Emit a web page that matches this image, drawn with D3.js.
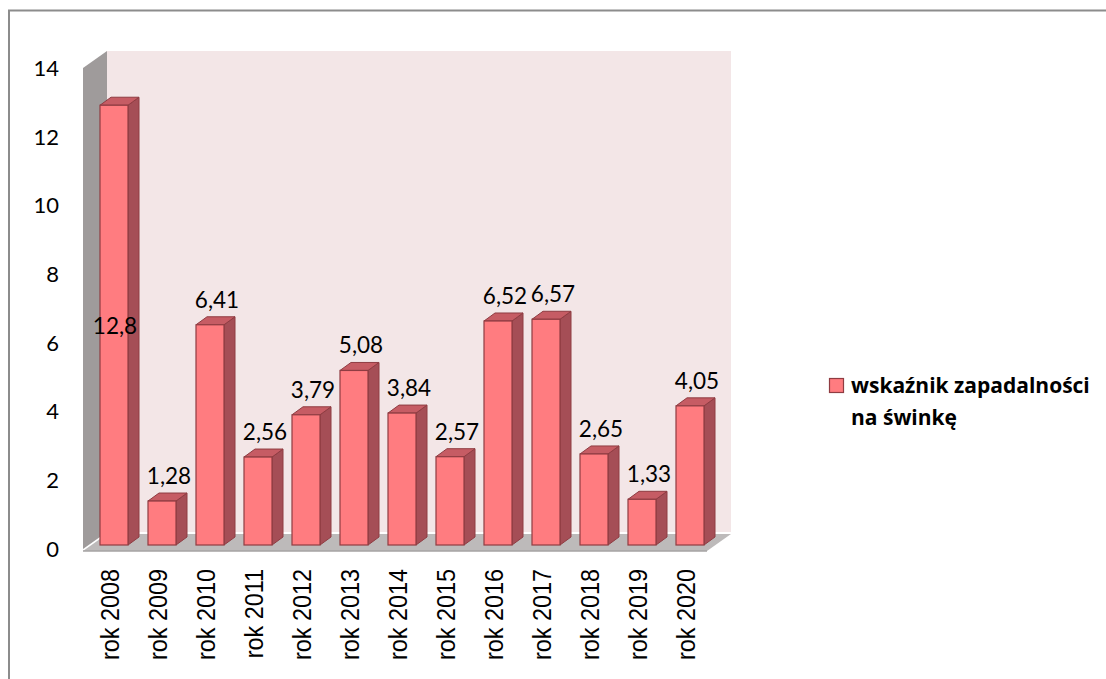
<!DOCTYPE html>
<html>
<head>
<meta charset="UTF-8">
<script src="https://cdn.jsdelivr.net/npm/d3@7"></script>
<style>
  body { margin: 0; background: #fff; }
  svg text { font-family: Lato, "Liberation Sans", sans-serif; fill: #000; }
  .xlab { font-family: "Liberation Sans", Arial, sans-serif; font-size: 26px; }
  .tick-lab { font-size: 22px; }
  .val { font-size: 22.5px; }
  .legend-text { font-family: "Open Sans", sans-serif; font-size: 21px; font-weight: bold; }
</style>
<title>wskaźnik zapadalności na świnkę</title>
</head>
<body>
<svg id="chart" width="1106" height="679"></svg>
<script>
// data
var years = ["rok 2008", "rok 2009", "rok 2010", "rok 2011", "rok 2012", "rok 2013", "rok 2014",
             "rok 2015", "rok 2016", "rok 2017", "rok 2018", "rok 2019", "rok 2020"];
var values = [12.8, 1.28, 6.41, 2.56, 3.79, 5.08, 3.84, 2.57, 6.52, 6.57, 2.65, 1.33, 4.05];
var yTicks = [0, 2, 4, 6, 8, 10, 12, 14];
var seriesName = ["wskaźnik zapadalności", "na świnkę"];

var svg = d3.select("#chart");

// outer frame
svg.append("rect").attr("x", 9).attr("y", 10.5).attr("width", 1120).attr("height", 720)
  .attr("fill", "none").attr("stroke", "#8c8c8c").attr("stroke-width", 2);

// front plane geometry
var left = 83, right = 707;
var depthX = 24, depthY = -17;      // wall depth
var barOffX = 6, barOffY = -4;      // bar front plane offset
var barDX = 11, barDY = -8;         // bar depth

var y = d3.scaleLinear().domain([0, 14]).range([549, 68]);
var x = d3.scaleBand().domain(years).range([left + barOffX + 1, right + barOffX + 1])
  .paddingInner(20 / 48).paddingOuter(10 / 48);

function pts(a) { return a.map(function(p) { return p[0] + "," + p[1]; }).join(" "); }

// back wall
svg.append("rect")
  .attr("x", left + depthX).attr("y", y(14) + depthY)
  .attr("width", right - left).attr("height", y(0) - y(14))
  .attr("fill", "#f3e6e7");

// side wall
svg.append("polygon")
  .attr("points", pts([[left, y(14)], [left + depthX, y(14) + depthY],
                       [left + depthX, y(0) + depthY], [left, y(0)]]))
  .attr("fill", "#9f9b9b");

// floor
svg.append("polygon")
  .attr("points", pts([[left, y(0) + 2], [right, y(0) + 2], [right + depthX, y(0) + depthY + 2],
                       [left + depthX, y(0) + depthY + 2]]))
  .attr("fill", "#bdbaba");
svg.append("line")
  .attr("x1", left).attr("x2", right).attr("y1", y(0) + 2).attr("y2", y(0) + 2)
  .attr("stroke", "#a6a3a3").attr("stroke-width", 1.5);

// y axis labels
svg.selectAll(".tick-lab").data(yTicks).enter().append("text")
  .attr("class", "tick-lab")
  .attr("x", 59).attr("y", function(d) { return y(d); })
  .attr("dy", "0.36em")
  .attr("text-anchor", "end")
  .text(function(d) { return d; });

// bars
var bars = svg.selectAll(".bar").data(values).enter().append("g").attr("class", "bar");
var stroke = "#8f3c42";
bars.each(function(v, i) {
  var g = d3.select(this);
  var x0 = x(years[i]), w = x.bandwidth();
  var yb = y(0) + barOffY, yt = y(v) + barOffY;
  // side face
  g.append("polygon")
    .attr("points", pts([[x0 + w, yt], [x0 + w + barDX, yt + barDY], [x0 + w + barDX, yb + barDY], [x0 + w, yb]]))
    .attr("fill", "#a54e56").attr("stroke", stroke).attr("stroke-width", 1);
  // top face
  g.append("polygon")
    .attr("points", pts([[x0, yt], [x0 + barDX, yt + barDY], [x0 + w + barDX, yt + barDY], [x0 + w, yt]]))
    .attr("fill", "#c65c64").attr("stroke", stroke).attr("stroke-width", 1);
  // front face
  g.append("rect")
    .attr("x", x0).attr("y", yt).attr("width", w).attr("height", yb - yt)
    .attr("fill", "#ff7c80").attr("stroke", stroke).attr("stroke-width", 1.2);
});

// value labels (the tallest one sits in the middle of its bar)
svg.selectAll(".val").data(values).enter().append("text")
  .attr("class", "val")
  .attr("text-anchor", "middle")
  .attr("x", function(d, i) {
    var c = x(years[i]) + x.bandwidth() / 2;
    return d > 10 ? c + 1 : c + 7;
  })
  .attr("y", function(d) {
    var yt = y(d) + barOffY, yb = y(0) + barOffY;
    return d > 10 ? (yt + yb) / 2 + 9 : yt - 17;
  })
  .text(function(d) { return String(d).replace(".", ","); });

// category labels
svg.selectAll(".xlab").data(years).enter().append("text")
  .attr("class", "xlab")
  .attr("text-anchor", "end")
  .attr("transform", function(d) {
    return "translate(" + (x(d) + x.bandwidth() / 2 + 5) + ",569) rotate(-90) scale(0.9,1)";
  })
  .text(function(d) { return d; });

// legend
svg.append("rect").attr("x", 829.5).attr("y", 378.5).attr("width", 14).attr("height", 14)
  .attr("fill", "#ff7c80").attr("stroke", stroke).attr("stroke-width", 1.2);
svg.selectAll(".legend-text").data(seriesName).enter().append("text")
  .attr("class", "legend-text")
  .attr("x", 851).attr("y", function(d, i) { return 393 + i * 32; })
  .text(function(d) { return d; });
</script>
</body>
</html>
